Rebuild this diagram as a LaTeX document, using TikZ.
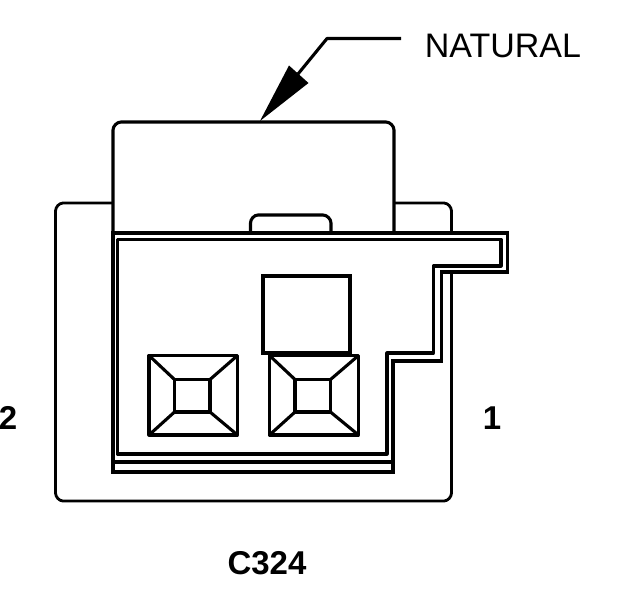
\documentclass[tikz,border=0pt]{standalone}
\usepackage{fontspec}
\setmainfont{Liberation Sans}
\tikzset{
  ln/.style={line width=3.1pt,line join=round,line cap=butt},
  thin ln/.style={line width=2.8pt,line join=round},
  heavy/.style={line width=3.7pt,line join=miter},
  lbl/.style={inner sep=0pt,anchor=base,font=\fontsize{33}{33}\selectfont},
  wide lbl/.style={inner sep=0pt,anchor=base,font=\fontsize{34}{34}\selectfont},
  blbl/.style={lbl,font=\fontsize{33}{33}\selectfont\bfseries}
}
\begin{document}
\begin{tikzpicture}[x=1pt,y=-1pt]
\useasboundingbox (0,0) rectangle (624,600);
% outer housing
\draw[thin ln] (113,203) -- (63,203) to[out=180,in=90,looseness=.9] (55.5,211) -- (55.5,493) to[out=-90,in=180,looseness=.9] (63,501) -- (444,501) to[out=0,in=-90,looseness=.9] (451.5,493) -- (451.5,272);
\draw[thin ln] (394,203) -- (444,203) to[out=0,in=90,looseness=.9] (451.5,211) -- (451.5,233);
% top cover
\draw[ln] (113,233) -- (113,130) to[out=90,in=180,looseness=.9] (121,122) -- (386,122) to[out=0,in=90,looseness=.9] (394,130) -- (394,233);
% tab
\draw[ln] (250.5,233) -- (250.5,223) to[out=90,in=180,looseness=.9] (258,215) -- (323,215) to[out=0,in=90,looseness=.9] (331,223) -- (331,233);
% latch outlines
\draw[heavy] (113,472) -- (113,233) -- (507.5,233) -- (507.5,272) -- (441.5,272) -- (441.5,361) -- (393,361) -- (393,472) -- cycle;
\draw[ln] (117.5,454) -- (117.5,239.5) -- (501,239.5) -- (501,266) -- (433.5,266) -- (433.5,353) -- (387,353) -- (387,454) -- cycle;
\draw[ln] (113,462) -- (393,462);
% centre square
\draw[heavy] (263,276) rectangle (350,353);
% terminals
\foreach \xa/\xb/\xc/\xd in {149/174.5/210/237.5,269.5/295/330.5/358.5}{
  \draw[ln] (\xa,355.5) rectangle (\xd,435);
  \draw[heavy] (\xb,379.5) rectangle (\xc,412);
  \draw[ln] (\xa,355.5) -- (\xb,379.5) (\xd,355.5) -- (\xc,379.5) (\xa,435) -- (\xb,412) (\xd,435) -- (\xc,412);
}
% labels and pointer
\node[wide lbl] (natural) at (503,57) {NATURAL};
\node[blbl] (pintwo) at (8,429) {2};
\node[blbl] (pinone) at (492,429) {1};
\node[blbl] (conn) at (267,574) {C324};
\coordinate (tip) at (260,121);
\coordinate (barba) at (289,65.5);
\coordinate (barbb) at (308.5,83);
\coordinate (neck) at (298,74);
\coordinate (elbow) at (327,38.5);
\coordinate (lead) at (401,38.5);
\fill (tip) -- (barba) -- (barbb) -- cycle;
\draw[ln] (neck) -- (elbow) -- (lead);
\end{tikzpicture}
\end{document}
